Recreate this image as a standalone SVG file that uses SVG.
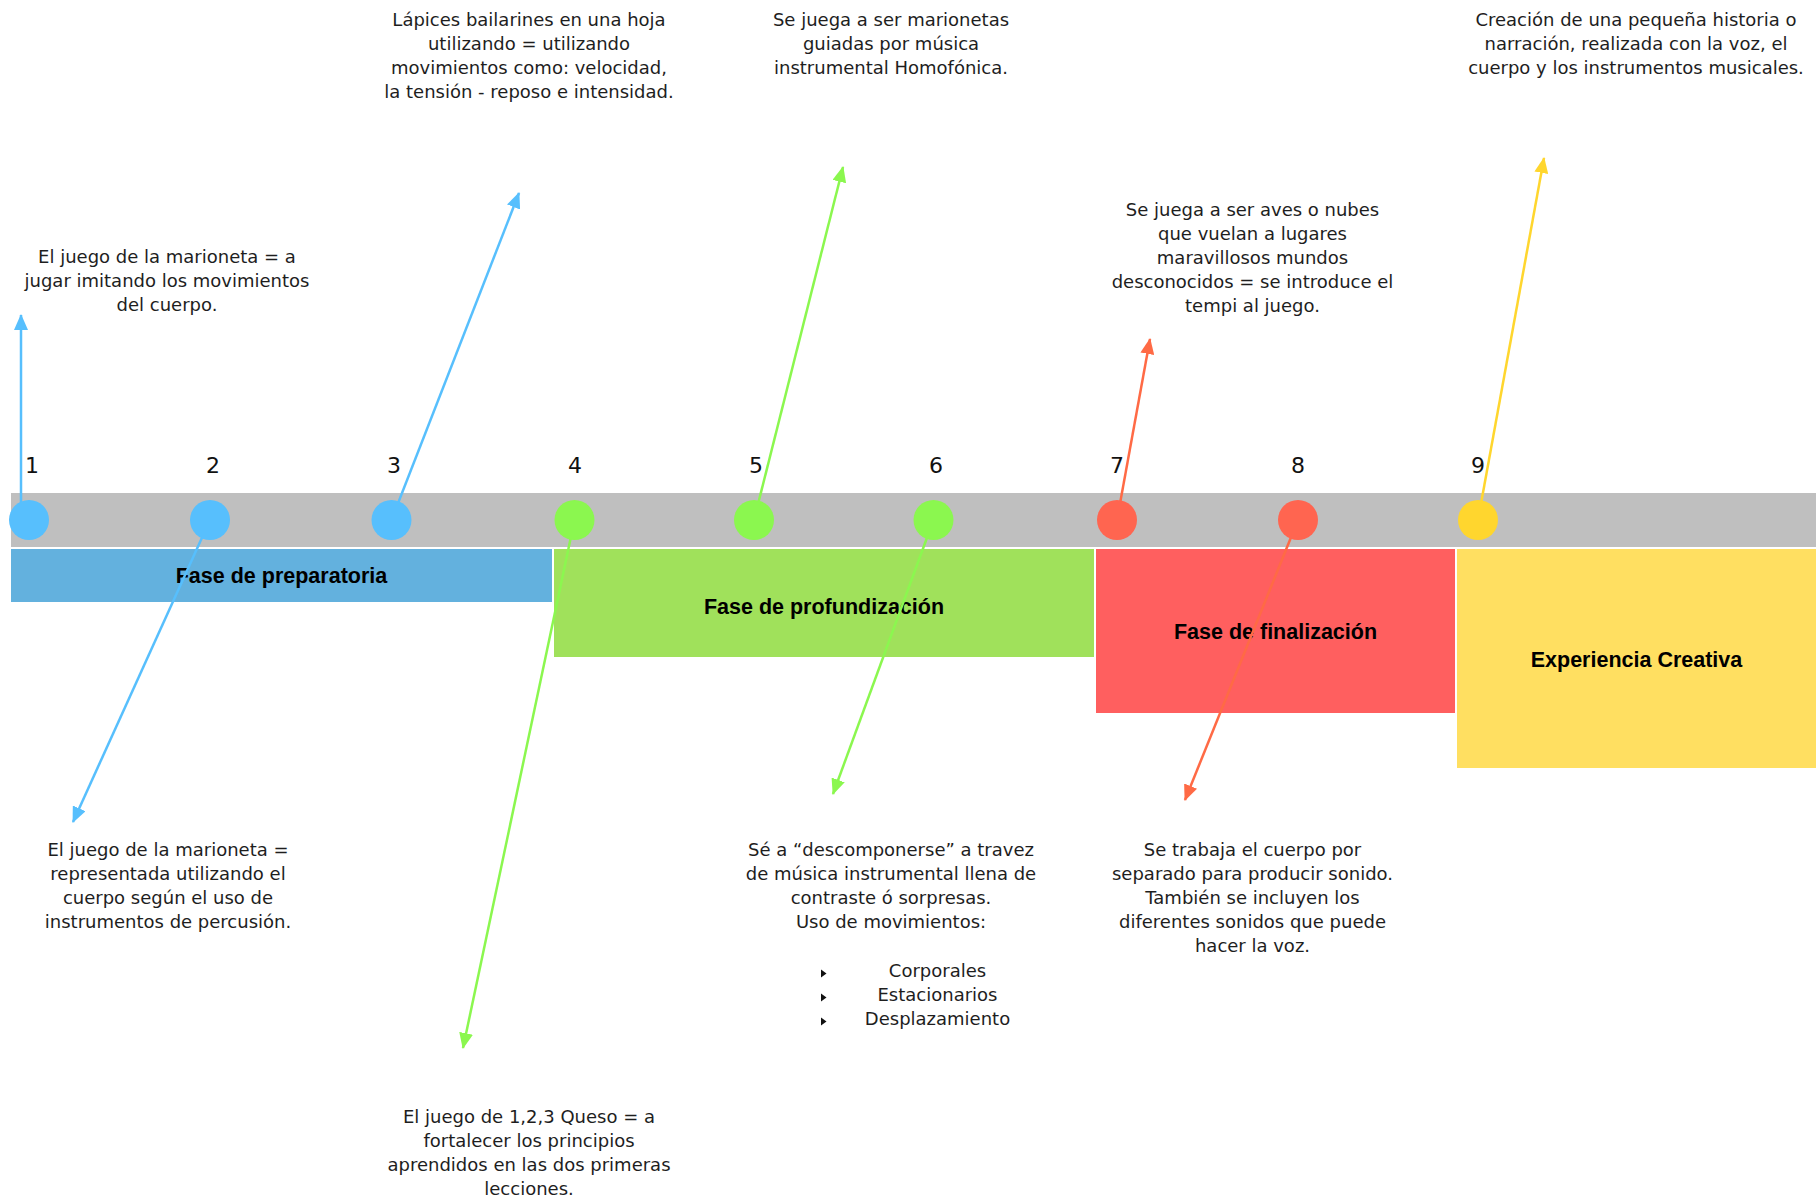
<svg xmlns="http://www.w3.org/2000/svg" width="1820" height="1198" viewBox="0 0 1820 1198">
<style>
.t{font-family:"DejaVu Sans","Liberation Sans",sans-serif;font-size:18px;fill:#1e1e1e;text-anchor:middle}
.n{font-family:"DejaVu Sans","Liberation Sans",sans-serif;font-size:22px;fill:#111;text-anchor:middle}
.b{font-family:"Liberation Sans","DejaVu Sans",sans-serif;font-size:21.5px;font-weight:bold;fill:#000;text-anchor:middle}
.cb{fill:#57BFFD}.cg{fill:#8BF74F}.cr{fill:#FF6550}.cy{fill:#FFD62E}
.lb{stroke:#57BFFD}.lg{stroke:#8BF74F}.lr{stroke:#FF6A45}.ly{stroke:#FFD62E}
.c line{stroke-width:2.5;fill:none}
</style>
<defs>
<marker id="ab" viewBox="0 0 16 14" markerWidth="16" markerHeight="14" refX="15" refY="7" orient="auto" markerUnits="userSpaceOnUse"><path d="M0,0L16,7L0,14z" fill="#57BFFD"/></marker>
<marker id="ag" viewBox="0 0 16 14" markerWidth="16" markerHeight="14" refX="15" refY="7" orient="auto" markerUnits="userSpaceOnUse"><path d="M0,0L16,7L0,14z" fill="#8BF74F"/></marker>
<marker id="ar" viewBox="0 0 16 14" markerWidth="16" markerHeight="14" refX="15" refY="7" orient="auto" markerUnits="userSpaceOnUse"><path d="M0,0L16,7L0,14z" fill="#FF6A45"/></marker>
<marker id="ay" viewBox="0 0 16 14" markerWidth="16" markerHeight="14" refX="15" refY="7" orient="auto" markerUnits="userSpaceOnUse"><path d="M0,0L16,7L0,14z" fill="#FFD62E"/></marker>
</defs>
<rect width="1820" height="1198" fill="#fff"/>
<g id="timeline-bar"><rect x="11" y="493" width="1805" height="54" fill="#BFBFBF"/></g>
<g id="phase-preparatoria"><rect x="11" y="549" width="541" height="53" fill="#63B1DE"/><text class="b" x="281.5" y="583">Fase de preparatoria</text></g>
<g id="phase-profundizacion"><rect x="554" y="549" width="540" height="108" fill="#A0E15B"/><text class="b" x="824" y="614">Fase de profundización</text></g>
<g id="phase-finalizacion"><rect x="1096" y="549" width="359" height="164" fill="#FF5F5F"/><text class="b" x="1275.5" y="639">Fase de finalización</text></g>
<g id="phase-creativa"><rect x="1457" y="549" width="359" height="219" fill="#FFDF61"/><text class="b" x="1636.5" y="667">Experiencia Creativa</text></g>
<g id="connectors" class="c">
<line class="lb" x1="21" y1="515" x2="21" y2="315" marker-end="url(#ab)"/>
<line class="lb" x1="210" y1="520" x2="73" y2="822" marker-end="url(#ab)"/>
<line class="lb" x1="391.5" y1="520" x2="519" y2="193" marker-end="url(#ab)"/>
<line class="lg" x1="574.5" y1="520" x2="463" y2="1048" marker-end="url(#ag)"/>
<line class="lg" x1="754" y1="520" x2="843" y2="167" marker-end="url(#ag)"/>
<line class="lg" x1="933.5" y1="520" x2="833" y2="794" marker-end="url(#ag)"/>
<line class="lr" x1="1117" y1="520" x2="1150" y2="339" marker-end="url(#ar)"/>
<line class="lr" x1="1298" y1="520" x2="1185" y2="800" marker-end="url(#ar)"/>
<line class="ly" x1="1478" y1="520" x2="1544" y2="158" marker-end="url(#ay)"/>
</g>
<g id="step-1"><circle class="cb" cx="29" cy="520" r="20"/><text class="n" x="32" y="473">1</text></g>
<g id="step-2"><circle class="cb" cx="210" cy="520" r="20"/><text class="n" x="213" y="473">2</text></g>
<g id="step-3"><circle class="cb" cx="391.5" cy="520" r="20"/><text class="n" x="394" y="473">3</text></g>
<g id="step-4"><circle class="cg" cx="574.5" cy="520" r="20"/><text class="n" x="575" y="473">4</text></g>
<g id="step-5"><circle class="cg" cx="754" cy="520" r="20"/><text class="n" x="756" y="473">5</text></g>
<g id="step-6"><circle class="cg" cx="933.5" cy="520" r="20"/><text class="n" x="936" y="473">6</text></g>
<g id="step-7"><circle class="cr" cx="1117" cy="520" r="20"/><text class="n" x="1117" y="473">7</text></g>
<g id="step-8"><circle class="cr" cx="1298" cy="520" r="20"/><text class="n" x="1298" y="473">8</text></g>
<g id="step-9"><circle class="cy" cx="1478" cy="520" r="20"/><text class="n" x="1478" y="473">9</text></g>
<g id="note-1"><text class="t" x="167" y="263">El juego de la marioneta = a</text><text class="t" x="167" y="287">jugar imitando los movimientos</text><text class="t" x="167" y="311">del cuerpo.</text></g>
<g id="note-2"><text class="t" x="168" y="856">El juego de la marioneta =</text><text class="t" x="168" y="880">representada utilizando el</text><text class="t" x="168" y="904">cuerpo según el uso de</text><text class="t" x="168" y="928">instrumentos de percusión.</text></g>
<g id="note-3"><text class="t" x="529" y="26">Lápices bailarines en una hoja</text><text class="t" x="529" y="50">utilizando = utilizando</text><text class="t" x="529" y="74">movimientos como: velocidad,</text><text class="t" x="529" y="98">la tensión - reposo e intensidad.</text></g>
<g id="note-4"><text class="t" x="529" y="1123">El juego de 1,2,3 Queso = a</text><text class="t" x="529" y="1147">fortalecer los principios</text><text class="t" x="529" y="1171">aprendidos en las dos primeras</text><text class="t" x="529" y="1195">lecciones.</text></g>
<g id="note-5"><text class="t" x="891" y="26">Se juega a ser marionetas</text><text class="t" x="891" y="50">guiadas por música</text><text class="t" x="891" y="74">instrumental Homofónica.</text></g>
<g id="note-6"><text class="t" x="891" y="856">Sé a “descomponerse” a travez</text><text class="t" x="891" y="880">de música instrumental llena de</text><text class="t" x="891" y="904">contraste ó sorpresas.</text><text class="t" x="891" y="928">Uso de movimientos:</text>
<path d="M821,969.5L826.5,973.5L821,977.5z M821,993.5L826.5,997.5L821,1001.5z M821,1017.5L826.5,1021.5L821,1025.5z" fill="#111"/>
<text class="t" x="937.5" y="977">Corporales</text><text class="t" x="937.5" y="1001">Estacionarios</text><text class="t" x="937.5" y="1025">Desplazamiento</text></g>
<g id="note-7"><text class="t" x="1252.5" y="216">Se juega a ser aves o nubes</text><text class="t" x="1252.5" y="240">que vuelan a lugares</text><text class="t" x="1252.5" y="264">maravillosos mundos</text><text class="t" x="1252.5" y="288">desconocidos = se introduce el</text><text class="t" x="1252.5" y="312">tempi al juego.</text></g>
<g id="note-8"><text class="t" x="1252.5" y="856">Se trabaja el cuerpo por</text><text class="t" x="1252.5" y="880">separado para producir sonido.</text><text class="t" x="1252.5" y="904">También se incluyen los</text><text class="t" x="1252.5" y="928">diferentes sonidos que puede</text><text class="t" x="1252.5" y="952">hacer la voz.</text></g>
<g id="note-9"><text class="t" x="1636" y="26">Creación de una pequeña historia o</text><text class="t" x="1636" y="50">narración, realizada con la voz, el</text><text class="t" x="1636" y="74">cuerpo y los instrumentos musicales.</text></g>
</svg>
